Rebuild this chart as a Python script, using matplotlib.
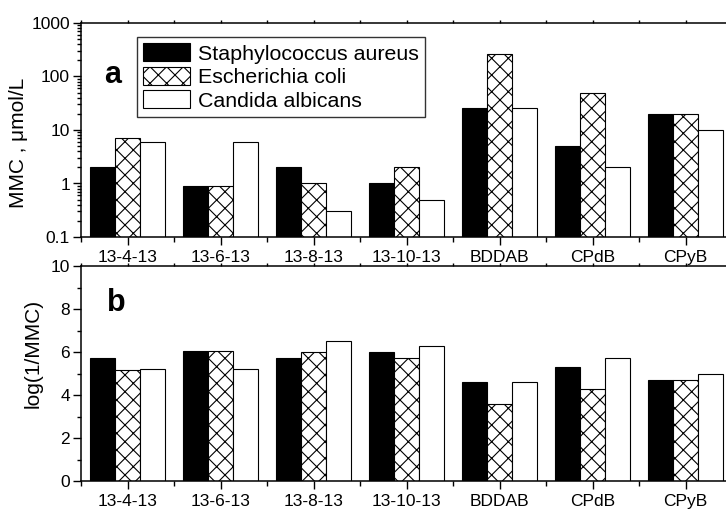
import matplotlib
matplotlib.use("Agg")
import matplotlib.pyplot as plt
import numpy as np
from matplotlib.ticker import FixedLocator, NullFormatter, LogLocator

plt.rcParams['font.family'] = ['Liberation Sans', 'DejaVu Sans']
plt.rcParams['hatch.linewidth'] = 0.8

categories = ["13-4-13", "13-6-13", "13-8-13", "13-10-13", "BDDAB", "CPdB", "CPyB"]
series_names = ["Staphylococcus aureus", "Escherichia coli", "Candida albicans"]

mmc_staph = [2, 0.9, 2, 1, 26, 5, 20]
mmc_ecoli = [7, 0.9, 1, 2, 260, 50, 20]
mmc_candida = [6, 6, 0.3, 0.5, 26, 2, 10]

log_staph = [5.7, 6.05, 5.7, 6.0, 4.6, 5.3, 4.7]
log_ecoli = [5.15, 6.05, 6.0, 5.7, 3.6, 4.3, 4.7]
log_candida = [5.2, 5.2, 6.5, 6.3, 4.6, 5.7, 5.0]

a_ticks = [0.1, 1, 10, 100, 1000]
a_ticklabels = ["0.1", "1", "10", "100", "1000"]
b_ticks = [0, 2, 4, 6, 8, 10]

W, H = 726, 511
fig = plt.figure(figsize=(W / 100, H / 100), dpi=100)

left = 81 / W
width = 651 / W
axa = fig.add_axes([left, 1 - 237 / H, width, 214 / H])
axb = fig.add_axes([left, 1 - 481 / H, width, 215 / H])

x = np.arange(1, len(categories) + 1)
bw = 0.27
styles = [dict(facecolor="black", hatch=None),
          dict(facecolor="white", hatch="xx"),
          dict(facecolor="white", hatch=None)]


def draw(ax, data):
    handles = []
    for i, (vals, st) in enumerate(zip(data, styles)):
        h = ax.bar(x + (i - 1) * bw, vals, width=bw, facecolor=st["facecolor"],
                   hatch=st["hatch"], edgecolor="black", linewidth=0.8,
                   label=series_names[i])
        handles.append(h)
    ax.set_xlim(0.5, len(categories) + 0.5)
    ax.set_xticks(x)
    ax.set_xticklabels(categories, fontsize=12.5)
    ax.xaxis.set_minor_locator(FixedLocator(np.arange(0.5, len(categories) + 1, 1)))
    ax.tick_params(axis="x", which="major", direction="out", length=6, width=1, pad=3.5)
    ax.tick_params(axis="x", which="minor", direction="out", length=3.5, width=1)
    ax.tick_params(axis="y", which="major", direction="out", length=6, width=1, labelsize=12.5, pad=2)
    ax.tick_params(axis="y", which="minor", direction="out", length=3, width=1)
    ax.tick_params(axis="x", which="both", top=True, labeltop=False)
    for s in ax.spines.values():
        s.set_linewidth(1.1)
    return handles


handles = draw(axa, [mmc_staph, mmc_ecoli, mmc_candida])
axa.set_yscale("log")
axa.set_ylim(0.1, 1000)
axa.set_yticks(a_ticks)
axa.set_yticklabels(a_ticklabels)
axa.yaxis.set_minor_locator(LogLocator(base=10, subs=np.arange(2, 10)))
axa.yaxis.set_minor_formatter(NullFormatter())

draw(axb, [log_staph, log_ecoli, log_candida])
axb.set_ylim(0, 10)
axb.set_yticks(b_ticks)
axb.yaxis.set_minor_locator(FixedLocator([1, 3, 5, 7, 9]))

for ax in (axa, axb):
    for t in ax.xaxis.get_major_ticks() + ax.xaxis.get_minor_ticks():
        t.tick2line.set_markersize(2)

leg = axa.legend(handles=handles, loc="upper left",
                 bbox_to_anchor=(137 / W, 1 - 37 / H), bbox_transform=fig.transFigure,
                 fontsize=15.4, frameon=True, fancybox=False, framealpha=1,
                 edgecolor="#333333", handlelength=2.2, handleheight=0.9,
                 handletextpad=0.35, labelspacing=0.15, borderpad=0.3, borderaxespad=0)
leg.get_frame().set_linewidth(1.0)

fig.text(19 / W, 1 - 143 / H, "MMC , μmol/L", rotation=90, fontsize=15,
         ha="center", va="center")
fig.text(33 / W, 1 - 353 / H, "log(1/MMC)", rotation=90, fontsize=15,
         ha="center", va="center")
fig.text(113 / W, 1 - 75 / H, "a", fontsize=22, fontweight="bold", ha="center", va="center")
fig.text(116 / W, 1 - 303 / H, "b", fontsize=22, fontweight="bold", ha="center", va="center")

fig.savefig("out.png", dpi=100)
